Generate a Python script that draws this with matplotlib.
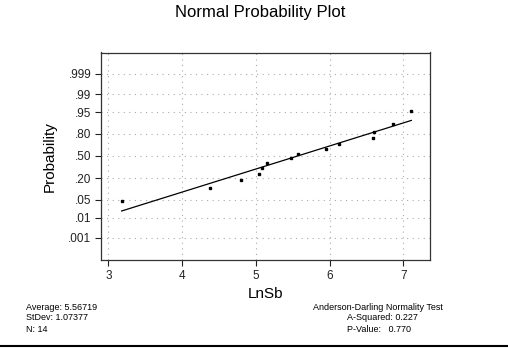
import numpy as np
import matplotlib.pyplot as plt
from matplotlib.lines import Line2D
from statistics import NormalDist

# Datos (LnSb)
lnsb = [3.18, 4.38, 4.80, 5.05, 5.085, 5.15, 5.48, 5.57, 5.95, 6.13, 6.59, 6.60, 6.86, 7.11]
prob_ticks = [0.001, 0.01, 0.05, 0.20, 0.50, 0.80, 0.95, 0.99, 0.999]
prob_labels = ['.001', '.01', '.05', '.20', '.50', '.80', '.95', '.99', '.999']
x_ticks = [3, 4, 5, 6, 7]

stats_left = ['Average: 5.56719', 'StDev: 1.07377', 'N: 14']
stats_right_title = 'Anderson-Darling Normality Test'
stats_right = ['A-Squared: 0.227', 'P-Value:   0.770']

plt.rcParams['font.family'] = ['Liberation Sans', 'DejaVu Sans']

nd = NormalDist()
x = np.sort(np.array(lnsb))
n = len(x)
# posiciones de graficado (Blom) en escala normal
rank = np.arange(1, n + 1)
z = np.array([nd.inv_cdf((i - 0.375) / (n + 0.25)) for i in rank])
z_ticks = [nd.inv_cdf(p) for p in prob_ticks]

# Recta ajustada
b, a = np.polyfit(x, z, 1)
xl = np.array([x.min(), x.max()])

fig = plt.figure(figsize=(5.08, 3.48), dpi=100)
ax = fig.add_axes([101 / 508, 1 - 260 / 348, 329.5 / 508, 207.5 / 348])

for zt in z_ticks:
    ax.axhline(zt, color='#aaaaaa', lw=0.8, ls=(0, (1, 4)), zorder=0)
for xt in x_ticks:
    ax.axvline(xt, color='#aaaaaa', lw=0.8, ls=(0, (1, 4)), zorder=0)

ax.plot(xl, a + b * xl, color='black', lw=0.9)
ax.plot(x, z, 's', color='black', ms=1.6)

ax.set_xlim(2.90, 7.37)
ax.set_ylim(-3.92, 3.90)
ax.set_xticks(x_ticks)
ax.set_yticks(z_ticks)
ax.set_yticklabels(prob_labels)
ax.tick_params(labelsize=8.5, length=4, width=0.8, colors='#222222', pad=3)
for s in ax.spines.values():
    s.set_linewidth(0.9)
    s.set_color('#333333')

ax.set_xlabel('LnSb', fontsize=11, labelpad=4)
ax.set_ylabel('Probability', fontsize=11, labelpad=8)

fig.text(260 / 508, 1 - 13 / 348, 'Normal Probability Plot', fontsize=12,
         ha='center', va='center')

for i, t in enumerate(stats_left):
    fig.text(26 / 508, 1 - (307 + 11 * i) / 348, t, fontsize=6.5, va='center')
fig.text(313 / 508, 1 - 307 / 348, stats_right_title, fontsize=6.5, va='center')
for i, t in enumerate(stats_right):
    fig.text(347 / 508, 1 - (318 + 11 * i) / 348, t, fontsize=6.5, va='center')

fig.add_artist(Line2D([0, 1], [1 - 346 / 348, 1 - 346 / 348], color='black', lw=1.5,
                      transform=fig.transFigure))

fig.savefig('out.png', dpi=100)
